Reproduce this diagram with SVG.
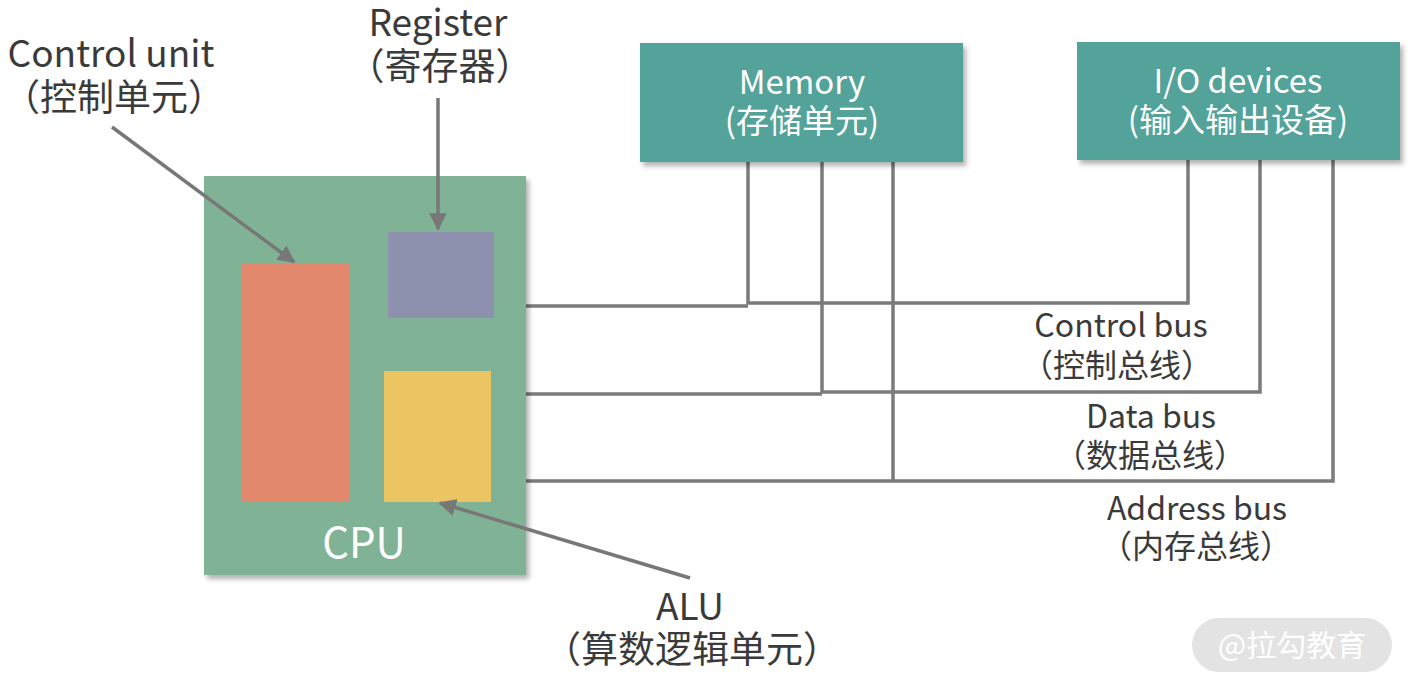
<svg xmlns="http://www.w3.org/2000/svg" width="1412" height="676" viewBox="0 0 1412 676">
<defs>
<filter id="sh" x="-10%" y="-10%" width="130%" height="130%">
<feDropShadow dx="3" dy="4" stdDeviation="2.5" flood-color="#000" flood-opacity="0.3"/>
</filter>
<marker id="ah" viewBox="0 0 10 10" refX="9" refY="5" markerWidth="5" markerHeight="5" orient="auto" markerUnits="strokeWidth">
<path d="M0,0 L10,5 L0,10 z" fill="#777"/>
</marker>
<style>
text{font-family:"Noto Sans CJK SC","Noto Sans",sans-serif;text-anchor:middle}
.lbl{fill:#3a3a3a;font-size:37px}
.bl{fill:#3a3a3a;font-size:32px}
.box{fill:#fff;font-size:33px}
.bus{fill:none;stroke:#7b7b7b;stroke-width:3.5}
.arr{fill:none;stroke:#777;stroke-width:3.5}
</style>
</defs>
<rect width="1412" height="676" fill="#fff"/>

<g id="connectors">
<polyline class="bus" points="526,306 748,306"/>
<polyline class="bus" points="748,162 748,303 1188,303 1188,160"/>
<polyline class="bus" points="526,394 822,394"/>
<polyline class="bus" points="822,162 822,392 1260,392 1260,160"/>
<polyline class="bus" points="526,481 1333,481 1333,160"/>
<polyline class="bus" points="893,162 893,481"/>
</g>

<g id="cpu">
<rect x="204" y="176" width="322" height="399" fill="#80b395" filter="url(#sh)"/>
<text x="364" y="558" font-size="42" fill="#fff">CPU</text>
</g>
<g id="control-unit-block"><rect x="242" y="264" width="107" height="238" fill="#e2886c"/></g>
<g id="register-block"><rect x="388" y="232" width="106" height="86" fill="#8d91ad"/></g>
<g id="alu-block"><rect x="384" y="371" width="107" height="131" fill="#ebc562"/></g>

<g id="memory">
<rect x="640" y="43" width="323" height="119" fill="#52a39a" filter="url(#sh)"/>
<text class="box" x="802" y="94">Memory</text>
<text class="box" x="802" y="133">(存储单元)</text>
</g>
<g id="io-devices">
<rect x="1077" y="42" width="323" height="118" fill="#52a39a" filter="url(#sh)"/>
<text class="box" x="1238" y="93">I/O devices</text>
<text class="box" x="1238" y="132">(输入输出设备)</text>
</g>

<g id="arrows">
<line class="arr" x1="112" y1="127" x2="294" y2="262" marker-end="url(#ah)"/>
<line class="arr" x1="438" y1="98" x2="438" y2="229" marker-end="url(#ah)"/>
<line class="arr" x1="690" y1="578" x2="440" y2="503" marker-end="url(#ah)"/>
</g>

<g id="label-control-unit">
<text class="lbl" x="111" y="67">Control unit</text>
<text class="lbl" x="114" y="111">（控制单元）</text>
</g>
<g id="label-register">
<text class="lbl" x="438" y="36">Register</text>
<text class="lbl" x="440" y="80">（寄存器）</text>
</g>
<g id="label-alu">
<text class="lbl" x="690" y="620">ALU</text>
<text class="lbl" x="692" y="663" font-size="36">（算数逻辑单元）</text>
</g>
<g id="label-control-bus">
<text class="bl" x="1121" y="337">Control bus</text>
<text class="bl" x="1117" y="377">（控制总线）</text>
</g>
<g id="label-data-bus">
<text class="bl" x="1151" y="428">Data bus</text>
<text class="bl" x="1150" y="467">（数据总线）</text>
</g>
<g id="label-address-bus">
<text class="bl" x="1197" y="520">Address bus</text>
<text class="bl" x="1196" y="558">（内存总线）</text>
</g>

<g id="watermark">
<rect x="1192" y="618" width="200" height="54" rx="27" fill="#e3e3e3"/>
<text x="1292" y="656" font-size="30" fill="#fff">@拉勾教育</text>
</g>
</svg>
